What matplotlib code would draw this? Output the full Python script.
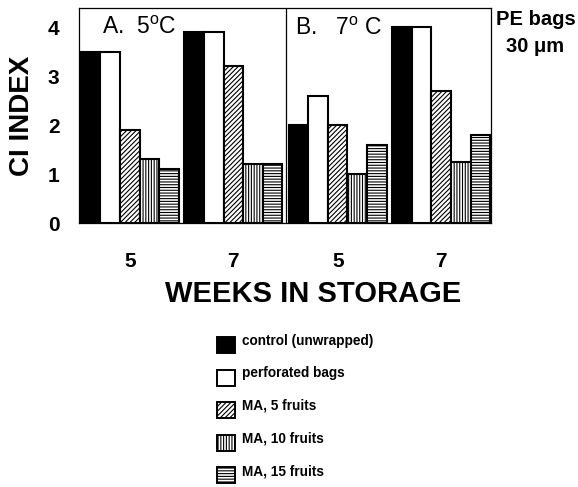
import matplotlib
matplotlib.use("Agg")
import matplotlib.pyplot as plt
from matplotlib.patches import Rectangle
import numpy as np

plt.rcParams['font.family'] = ['Liberation Sans', 'DejaVu Sans']
plt.rcParams['mathtext.fontset'] = 'custom'
plt.rcParams['mathtext.rm'] = 'Liberation Sans'
plt.rcParams['hatch.linewidth'] = 0.8

# ===== DATA =====
weeks = ["5", "7", "5", "7"]          # A (5 C) weeks 5,7 then B (7 C) weeks 5,7
treatments = ["control (unwrapped)", "perforated bags", "MA, 5 fruits",
              "MA, 10 fruits", "MA, 15 fruits"]
control = [3.5, 3.9, 2.0, 4.0]
perforated = [3.5, 3.9, 2.6, 4.0]
ma5 = [1.9, 3.2, 2.0, 2.7]
ma10 = [1.3, 1.2, 1.0, 1.25]
ma15 = [1.1, 1.2, 1.6, 1.8]
series = [control, perforated, ma5, ma10, ma15]

faces = ["black", "white", "white", "white", "white"]
hatches = [None, None, "///////", "||||||", "------"]

W, H = 578, 487
fig = plt.figure(figsize=(W / 100, H / 100), dpi=100)
ax = fig.add_axes([0.1367, 0.542, 0.7128, 0.4415])

centers = np.array([2.6, 7.9, 13.25, 18.55])
width = 1.0
for i, vals in enumerate(series):
    ax.bar(centers + (i - 2) * width, vals, width, color=faces[i],
           edgecolor="black", linewidth=1.5, hatch=hatches[i])

ax.set_xlim(0, 21.1)
ax.set_ylim(0, 4.39)
ax.axvline(10.6, color="black", linewidth=0.9)

ax.set_yticks([0, 1, 2, 3, 4])
ax.set_yticklabels(["0", "1", "2", "3", "4"], fontsize=15, fontweight="bold")
ax.set_xticks(centers)
ax.set_xticklabels(weeks, fontsize=15, fontweight="bold")
ax.tick_params(length=0)
ax.tick_params(axis="x", pad=21)
ax.tick_params(axis="y", pad=14)
for s in ax.spines.values():
    s.set_linewidth(0.9)

# axis titles (placed like in the scan)
fig.text(22 / W, 1 - 116 / H, "CI INDEX", fontsize=20, fontweight="bold",
         rotation=90, ha="center", va="center")
fig.text(313 / W, 1 - 302 / H, "WEEKS IN STORAGE", fontsize=21,
         fontweight="bold", ha="center", va="baseline")

ax.text(0.055, 0.878, r"A.  5$^\mathrm{o}$C", transform=ax.transAxes,
        fontsize=16.5, va="baseline")
ax.text(0.525, 0.873, r"B.   7$^\mathrm{o}$ C", transform=ax.transAxes,
        fontsize=16.5, va="baseline")
fig.text(536 / W, 1 - 25 / H, "PE bags", fontsize=14.5, fontweight="bold",
         ha="center", va="baseline")
fig.text(535 / W, 1 - 52 / H, "30 μm", fontsize=14.5, fontweight="bold",
         ha="center", va="baseline")

# ===== LEGEND (drawn by hand to keep the scan's layout) =====
for i, lab in enumerate(treatments):
    top = 337 + 32.5 * i
    fig.add_artist(Rectangle((217 / W, 1 - (top + 16) / H), 18 / W, 16 / H,
                             transform=fig.transFigure, facecolor=faces[i],
                             edgecolor="black", linewidth=1.4,
                             hatch=hatches[i]))
    fig.text(242 / W, 1 - (top + 8) / H, lab, fontsize=9.8,
             fontweight="bold", va="baseline")

plt.savefig("out.png", dpi=100)
